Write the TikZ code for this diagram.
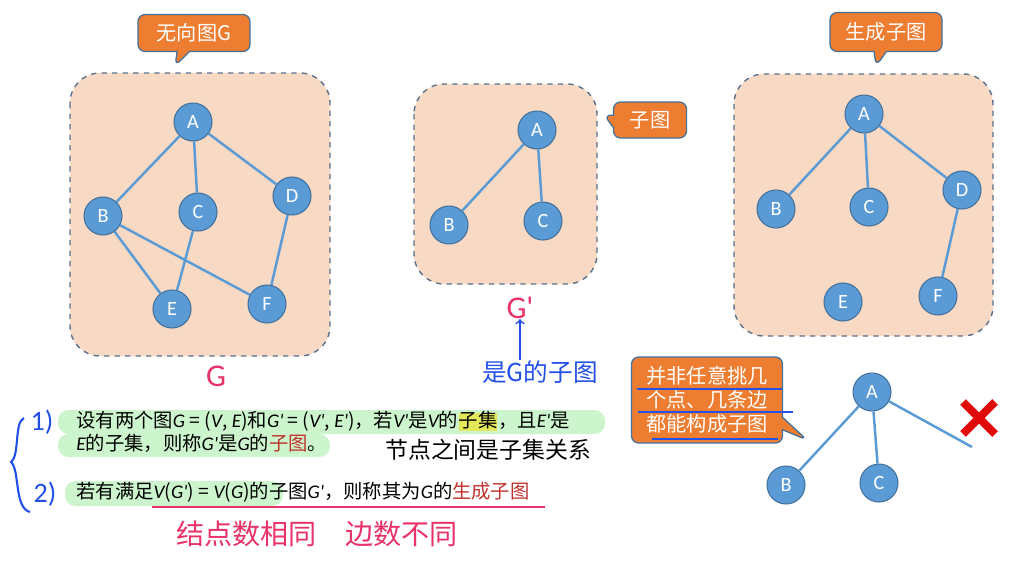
\documentclass[tikz,border=0pt]{standalone}
\usepackage{fontspec}
\setmainfont{Noto Sans CJK SC}
\newfontfamily\lat{Carlito}
\usetikzlibrary{positioning,shapes.callouts}
\definecolor{peach}{RGB}{248,217,196}
\definecolor{boxline}{RGB}{90,112,140}
\definecolor{vtxfill}{RGB}{91,155,213}
\definecolor{vtxline}{RGB}{65,113,156}
\definecolor{calfill}{RGB}{237,125,49}
\definecolor{redtext}{RGB}{192,50,45}
\definecolor{hlgreen}{RGB}{205,245,205}
\definecolor{hlyellow}{RGB}{226,232,90}
\definecolor{handblue}{RGB}{35,80,230}
\definecolor{handpink}{RGB}{232,50,105}
\definecolor{xred}{RGB}{225,10,10}
\newcommand{\mi}[1]{{\lat\itshape #1}}

\begin{document}
\begin{tikzpicture}[x=0.02cm,y=-0.02cm,
gbox/.style={draw=boxline,fill=peach,dashed,line width=0.8pt,rounded corners=0.6cm},
vtx/.style={circle,draw=vtxline,fill=vtxfill,line width=0.6pt,minimum size=0.76cm,inner sep=0pt,text=white,font=\fontsize{11.5}{12}\selectfont\lat},
edge/.style={draw=vtxfill,line width=1.4pt},
cal/.style={rectangle callout,draw=vtxline,fill=calfill,line width=0.7pt,rounded corners=4pt,text=white,font=\fontsize{11.5}{13}\selectfont,inner sep=0pt},
txt/.style={inner sep=0pt,text height=0.85em,text depth=0.2em,font=\fontsize{11}{13}\selectfont},
hand/.style={inner sep=0pt,font=\fontsize{14}{16}\selectfont}]
	\useasboundingbox (0,0) rectangle (1024,565);
	%graph G
	\draw[gbox] (70,73) rectangle (330,356);
	\node[cal,minimum width=2.24cm,minimum height=0.74cm,callout absolute pointer={(175,66)}] (calG) at (194,33) {无向图G};
	\node[vtx] (gA) at (193,122) {A};
	\node[vtx] (gB) at (103,216) {B};
	\node[vtx] (gC) at (198,212) {C};
	\node[vtx] (gD) at (292,196) {D};
	\node[vtx] (gE) at (172,309) {E};
	\node[vtx] (gF) at (267,304) {F};
	\draw[edge] (gA) -- (gB) (gA) -- (gC) (gA) -- (gD) (gB) -- (gE) (gB) -- (gF) (gC) -- (gE) (gD) -- (gF);

	%subgraph
	\draw[gbox] (414,84) rectangle (597,284);
	\node[cal,minimum width=1.46cm,minimum height=0.72cm,callout absolute pointer={(604,115)}] (calS) at (650,120) {子图};
	\node[vtx] (sA) at (537,130) {A};
	\node[vtx] (sB) at (449,225) {B};
	\node[vtx] (sC) at (543,221) {C};
	\draw[edge] (sA) -- (sB) (sA) -- (sC);

	%spanning subgraph
	\draw[gbox] (734,74) rectangle (993,336);
	\node[cal,minimum width=2.24cm,minimum height=0.78cm,callout absolute pointer={(876,66)}] (calP) at (886,32) {生成子图};
	\node[vtx] (pA) at (864,114) {A};
	\node[vtx] (pB) at (776,209) {B};
	\node[vtx] (pC) at (869,207) {C};
	\node[vtx] (pD) at (962,190) {D};
	\node[vtx] (pE) at (843,302) {E};
	\node[vtx] (pF) at (938,296) {F};
	\draw[edge] (pA) -- (pB) (pA) -- (pC) (pA) -- (pD) (pD) -- (pF);

	%not a subgraph
	\node[cal,minimum width=3.02cm,minimum height=1.72cm,align=left,font=\fontsize{11.5}{13.5}\selectfont,callout absolute pointer={(807,440)}] (calN) at (707,400) {并非任意挑几\\个点、几条边\\都能构成子图};
	\draw[handblue,line width=1pt] (637,389) -- (782,389) (638,412) -- (793,412) (652,439) -- (778,439);
	\node[vtx] (tA) at (872,392) {A};
	\node[vtx] (tB) at (786,485) {B};
	\node[vtx] (tC) at (879,483) {C};
	\coordinate (tail) at (972,447);
	\draw[edge] (tA) -- (tB) (tA) -- (tC) (tA) -- (tail);
	\draw[xred,line width=4.5pt] (963,402) -- (995,434) (995,402) -- (963,434);

	%definitions
	\fill[hlgreen,rounded corners=6pt] (58,410) rectangle (605,434);
	\fill[hlgreen,rounded corners=6pt] (58,434) rectangle (330,457);
	\fill[hlgreen,rounded corners=6pt] (65,481) rectangle (283,506);
	\node[txt,anchor=west] (l1a) at (76,422) {设有两个图\mi{G} = (\mi{V}, \mi{E})和\mi{G'} = (\mi{V'}, \mi{E'})，若\mi{V'}是\mi{V}的};
	\node[txt,fill=hlyellow,right=0pt of l1a] (l1b) {子集};
	\node[txt,right=0pt of l1b] (l1c) {，且\mi{E'}是};
	\node[txt,anchor=west] (l2) at (76,445) {\mi{E}的子集，则称\mi{G'}是\mi{G}的\textcolor{redtext}{子图}。};
	\node[txt,anchor=west] (l3) at (76,493) {若有满足\mi{V}(\mi{G'}) = \mi{V}(\mi{G})的子图\mi{G'}，则称其为\mi{G}的\textcolor{redtext}{生成子图}};
	\draw[handpink,line width=1.1pt] (152,507) -- (545,507);

	%notes
	\node[hand,text=handpink,font=\fontsize{18}{18}\selectfont\lat] (hG) at (216,376) {G};
	\node[hand,text=handpink,font=\fontsize{18}{18}\selectfont\lat] (hGp) at (520,308) {G'};
	\node[hand,text=handblue] (hsub) at (540,372) {是G的子图};
	\draw[->,handblue,line width=1pt] (hsub.north -| hGp) -- (hGp.south);
	\node[hand,anchor=west,font=\fontsize{13}{15}\selectfont] (hrel) at (385,450) {节点之间是子集关系};
	\node[hand,text=handpink,anchor=west,font=\fontsize{16}{18}\selectfont] (hcnt) at (176,534) {结点数相同\quad 边数不同};
	\node[hand,text=handblue,font=\fontsize{16}{16}\selectfont\lat] (n1) at (42,422) {1)};
	\node[hand,text=handblue,font=\fontsize{16}{16}\selectfont\lat] (n2) at (45,494) {2)};
	\draw[handblue,line width=1.2pt] (24,418) .. controls (14,422) and (20,455) .. (11,462) .. controls (20,470) and (14,508) .. (30,512);
\end{tikzpicture}
\end{document}
